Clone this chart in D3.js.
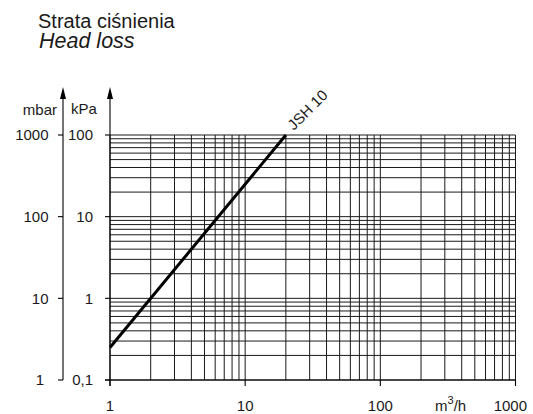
<!DOCTYPE html>
<html>
<head>
<meta charset="utf-8">
<script src="https://cdn.jsdelivr.net/npm/d3@7"></script>
<style>
  body { margin: 0; background: #fff; }
  svg { display: block; font-family: "Liberation Sans", Arial, sans-serif; }
  .grid line { stroke: #1a1a1a; stroke-width: 1; }
  .axis { stroke: #000; stroke-width: 1.1; fill: none; }
  .lbl { font-size: 15px; fill: #1a1a1a; }
</style>
</head>
<body>
<svg id="chart" width="533" height="414"></svg>
<script>
// flow (m3/h) and head loss (kPa / mbar), log-log
const flowTicks   = [1, 10, 100, 1000];
const flowLabels  = ['1', '10', '100', '1000'];
const kpaTicks    = [0.1, 1, 10, 100];
const kpaLabels   = ['0,1', '1', '10', '100'];
const mbarTicks   = [1, 10, 100, 1000];
const mbarLabels  = ['1', '10', '100', '1000'];
// JSH 10 characteristic (straight line on log-log paper)
const curveFlow   = [1, 20];
const curveLoss   = [0.25, 100];
const curveName   = 'JSH 10';

const svg = d3.select('#chart');
const L = 110, R = 515.5, T = 135, B = 380, MB = 63;

const x  = d3.scaleLog().domain([1, 1000]).range([L, R]);
const y  = d3.scaleLog().domain([0.1, 100]).range([B, T]);
const ym = d3.scaleLog().domain([1, 1000]).range([B, T]);

// title
svg.append('text').attr('x', 38).attr('y', 28).style('font-size', '20px').attr('fill', '#1a1a1a')
  .text('Strata ciśnienia');
svg.append('text').attr('x', 39).attr('y', 48).style('font-size', '21.5px').style('font-style', 'italic')
  .attr('fill', '#1a1a1a').text('Head loss');

// log paper grid
const grid = svg.append('g').attr('class', 'grid');
grid.selectAll('line.h').data(y.ticks()).join('line').attr('class', 'h')
  .attr('x1', L).attr('x2', R).attr('y1', d => y(d)).attr('y2', d => y(d));
grid.selectAll('line.v').data(x.ticks()).join('line').attr('class', 'v')
  .attr('y1', T).attr('y2', B).attr('x1', d => x(d)).attr('x2', d => x(d));

// axes with arrows
const arrow = (ax) => svg.append('path').attr('fill', '#000')
  .attr('d', `M${ax},87 L${ax - 3},99 L${ax + 3},99 Z`);
svg.append('line').attr('class', 'axis').attr('x1', L).attr('x2', L).attr('y1', B + 6).attr('y2', 95);
svg.append('line').attr('class', 'axis').attr('x1', MB).attr('x2', MB).attr('y1', B).attr('y2', 95);
svg.append('line').attr('class', 'axis').attr('x1', L - 5).attr('x2', R).attr('y1', B).attr('y2', B);
arrow(L); arrow(MB);

// kPa ticks + labels
svg.append('g').selectAll('line').data(kpaTicks).join('line').attr('class', 'axis')
  .attr('x1', L - 5).attr('x2', L).attr('y1', d => y(d)).attr('y2', d => y(d));
svg.append('g').selectAll('text').data(kpaTicks).join('text').attr('class', 'lbl')
  .attr('x', 93).attr('y', d => y(d)).attr('dy', '0.35em').attr('text-anchor', 'end')
  .text((d, i) => kpaLabels[i]);

// mbar ticks + labels
svg.append('g').selectAll('line').data(mbarTicks).join('line').attr('class', 'axis')
  .attr('x1', MB - 5).attr('x2', MB).attr('y1', d => ym(d)).attr('y2', d => ym(d));
svg.append('g').selectAll('text').data(mbarTicks).join('text').attr('class', 'lbl')
  .attr('x', d => d === 1 ? 44 : 48.5).attr('y', d => ym(d)).attr('dy', '0.35em').attr('text-anchor', 'end')
  .text((d, i) => mbarLabels[i]);

// flow ticks + labels
svg.append('g').selectAll('line').data(flowTicks).join('line').attr('class', 'axis')
  .attr('x1', d => x(d)).attr('x2', d => x(d)).attr('y1', B).attr('y2', B + 6);
svg.append('g').selectAll('text').data(flowTicks).join('text').attr('class', 'lbl')
  .attr('x', d => d === 1000 ? 527 : x(d)).attr('y', 411)
  .attr('text-anchor', d => d === 1000 ? 'end' : 'middle')
  .text((d, i) => flowLabels[i]);

// unit labels
svg.append('text').attr('class', 'lbl').attr('x', 57).attr('y', 115).attr('text-anchor', 'end').text('mbar');
svg.append('text').attr('class', 'lbl').attr('x', 71).attr('y', 114).text('kPa');
const unit = svg.append('text').attr('class', 'lbl').attr('x', 435).attr('y', 411);
unit.append('tspan').text('m');
unit.append('tspan').attr('dy', -7).style('font-size', '11px').text('3');
unit.append('tspan').attr('dy', 7).text('/h');

// characteristic line
const pts = curveFlow.map((q, i) => [q, curveLoss[i]]);
svg.append('path').datum(pts)
  .attr('fill', 'none').attr('stroke', '#000').attr('stroke-width', 3)
  .attr('d', d3.line().x(d => x(d[0])).y(d => y(d[1])));
const end = pts[pts.length - 1];
svg.append('text').attr('class', 'lbl').style('font-size', '15px')
  .attr('transform', `translate(${x(end[0]) + 8},${y(end[1]) - 4}) rotate(-45)`)
  .text(curveName);
</script>
</body>
</html>
